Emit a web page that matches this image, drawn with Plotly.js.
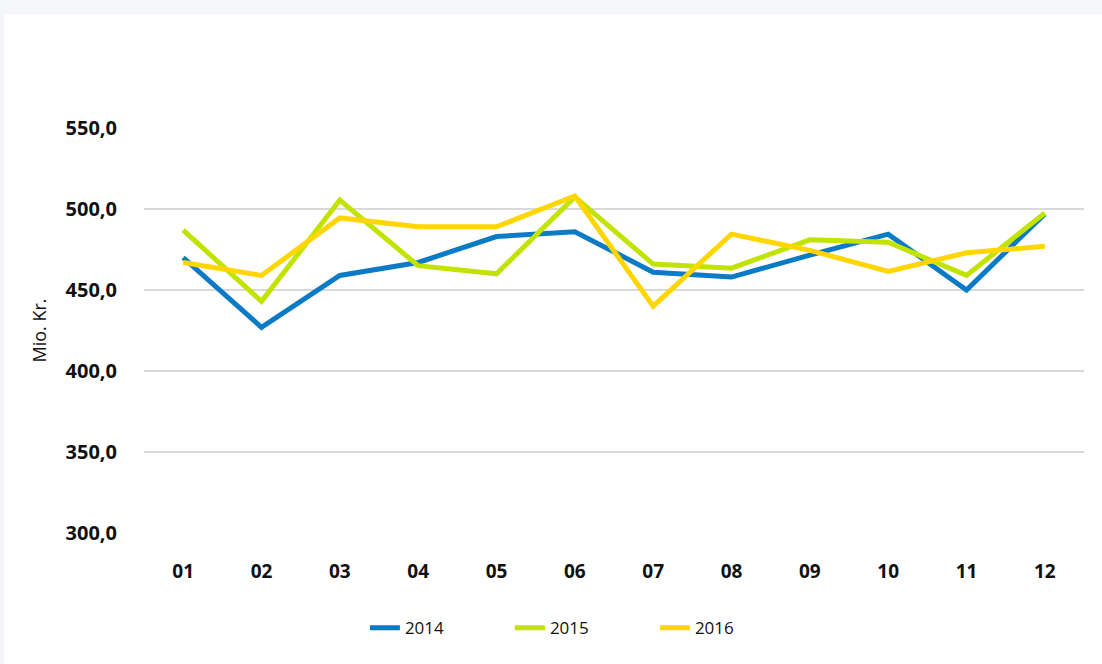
<!DOCTYPE html>
<html>
<head>
<meta charset="utf-8">
<script src="https://cdn.plot.ly/plotly-3.0.1.min.js"></script>
<style>
  html, body { margin: 0; padding: 0; background: #f5f6fa; width: 1102px; height: 664px; overflow: hidden; }
  #chart { position: absolute; left: 4px; top: 14px; width: 1098px; height: 650px; background: #ffffff; }
</style>
</head>
<body>
<div id="chart"></div>
<script>
const months = ["01","02","03","04","05","06","07","08","09","10","11","12"];
const values2014 = [470, 427, 459, 467, 483, 486, 461, 458, 471.5, 484.5, 450, 497];
const values2015 = [487, 443, 505.5, 465, 460, 507.5, 466, 463.5, 481, 479.5, 459, 497.5];
const values2016 = [467, 459, 494.5, 489, 489, 508, 440, 484.5, 474.5, 461.5, 473, 477];
const seriesNames = ["2014", "2015", "2016"];
const seriesColors = ["#0a7bc4", "#c2e300", "#ffd600"];

const allValues = [values2014, values2015, values2016];
const traces = allValues.map((vals, i) => ({
  type: "scatter",
  mode: "lines",
  x: months,
  y: vals,
  name: seriesNames[i],
  line: { color: seriesColors[i], width: 5 },
  hoverinfo: "x+y+name"
}));

const layout = {
  width: 1098,
  height: 650,
  paper_bgcolor: "#ffffff",
  plot_bgcolor: "#ffffff",
  separators: ",.",
  margin: { l: 140, r: 18, t: 114, b: 131 },
  font: { family: "'Open Sans', sans-serif", color: "#111111" },
  xaxis: {
    type: "category",
    range: [-0.5, 11.5],
    showgrid: false,
    zeroline: false,
    showline: false,
    ticks: "",
    ticklabelstandoff: 25,
    tickfont: { size: 19, family: "'Open Sans', sans-serif", weight: "bold", color: "#111111" }
  },
  yaxis: {
    range: [300, 550],
    dtick: 50,
    tick0: 300,
    tickformat: ".1f",
    showgrid: true,
    gridcolor: "#d9d9d9",
    gridwidth: 2,
    zeroline: false,
    showline: false,
    ticks: "",
    ticklabelstandoff: 26,
    tickfont: { size: 20, family: "'Open Sans', sans-serif", weight: "bold", color: "#111111" },
    title: { text: "Mio. Kr.", font: { size: 18, family: "'Open Sans', sans-serif", color: "#111111" }, standoff: 14 }
  },
  legend: {
    orientation: "h",
    x: 0.235,
    xanchor: "left",
    y: -0.235,
    yanchor: "middle",
    font: { size: 17, family: "'Open Sans', sans-serif", color: "#111111" },
    entrywidth: 100,
    entrywidthmode: "pixels",
    tracegroupgap: 0
  },
  showlegend: true
};

Plotly.newPlot("chart", traces, layout, { displayModeBar: false });
</script>
</body>
</html>
